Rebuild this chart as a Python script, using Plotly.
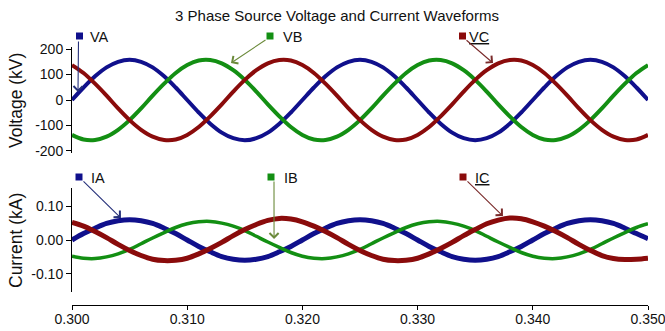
import plotly.graph_objects as go

# ---------------- data ----------------
time_s = [round(0.300 + 0.001 * i, 3) for i in range(51)]

va_kv = [0, 49, 93, 128, 150, 158, 150, 128, 93, 49, 0, -49, -93, -128, -150, -158, -150, -128, -93, -49,
         0, 49, 93, 128, 150, 158, 150, 128, 93, 49, 0, -49, -93, -128, -150, -158, -150, -128, -93, -49,
         0, 49, 93, 128, 150, 158, 150, 128, 93, 49, 0]
vb_kv = [-137, -155, -157, -144, -117, -79, -33, 17, 64, 106, 137, 155, 157, 144, 117, 79, 33, -17, -64, -106,
         -137, -155, -157, -144, -117, -79, -33, 17, 64, 106, 137, 155, 157, 144, 117, 79, 33, -17, -64, -106,
         -137, -155, -157, -144, -117, -79, -33, 17, 64, 106, 137]
vc_kv = [137, 106, 64, 17, -33, -79, -117, -144, -157, -155, -137, -106, -64, -17, 33, 79, 117, 144, 157, 155,
         137, 106, 64, 17, -33, -79, -117, -144, -157, -155, -137, -106, -64, -17, 33, 79, 117, 144, 157, 155,
         137, 106, 64, 17, -33, -79, -117, -144, -157, -155, -137]

ia_ka = [0, 0.019, 0.035, 0.049, 0.057, 0.060, 0.057, 0.049, 0.035, 0.019, 0, -0.019, -0.035, -0.049, -0.057,
         -0.060, -0.057, -0.049, -0.035, -0.019,
         0, 0.019, 0.035, 0.049, 0.057, 0.060, 0.057, 0.049, 0.035, 0.019, 0, -0.019, -0.035, -0.049, -0.057,
         -0.060, -0.057, -0.049, -0.035, -0.019,
         0, 0.019, 0.035, 0.049, 0.057, 0.060, 0.057, 0.049, 0.035, 0.019, 0.004]
ib_ka = [-0.048, -0.054, -0.055, -0.050, -0.041, -0.028, -0.011, 0.006, 0.022, 0.037, 0.048, 0.054, 0.055,
         0.050, 0.041, 0.028, 0.011, -0.006, -0.022, -0.037,
         -0.048, -0.054, -0.055, -0.050, -0.041, -0.028, -0.011, 0.006, 0.022, 0.037, 0.048, 0.054, 0.055,
         0.050, 0.041, 0.028, 0.011, -0.006, -0.022, -0.037,
         -0.048, -0.054, -0.055, -0.050, -0.041, -0.028, -0.011, 0.006, 0.022, 0.037, 0.048]
ic_ka = [0.052, 0.041, 0.025, 0.007, -0.013, -0.031, -0.046, -0.057, -0.061, -0.060, -0.054, -0.041, -0.025,
         -0.007, 0.013, 0.031, 0.046, 0.058, 0.064, 0.062,
         0.054, 0.041, 0.025, 0.007, -0.013, -0.031, -0.046, -0.057, -0.061, -0.060, -0.054, -0.041, -0.025,
         -0.007, 0.013, 0.031, 0.048, 0.059, 0.065, 0.063,
         0.054, 0.041, 0.025, 0.007, -0.013, -0.031, -0.046, -0.055, -0.058, -0.057, -0.054]

x_tickvals = [0.300, 0.310, 0.320, 0.330, 0.340, 0.350]
x_ticktext = ["0.300", "0.310", "0.320", "0.330", "0.340", "0.350"]
v_tickvals = [-200, -100, 0, 100, 200]
v_ticktext = ["-200", "-100", "0", "100", "200"]
i_tickvals = [-0.10, 0.00, 0.10]
i_ticktext = ["-0.10", "0.00", "0.10"]

title_text = "3 Phase Source Voltage and Current Waveforms"
v_title = "Voltage (kV)"
i_title = "Current (kA)"

# ---------------- styling / layout ----------------
W, H = 665, 331
ML, MR, MT, MB = 72, 17, 40, 26
PW, PH = W - ML - MR, H - MT - MB
FONT = "Liberation Sans, Arial, sans-serif"

BLUE, GREEN, RED = "#10108c", "#138f13", "#8a0b0b"
A_BLUE, A_GREEN, A_RED = "#25307a", "#6b8a3a", "#7a2a2a"


def pxp(p):  # pixel x -> paper
    return (p - ML) / PW


def pyp(p):  # pixel y -> paper
    return (H - MB - p) / PH


V_RANGE = [-208, 208]
I_RANGE = [-0.154, 0.154]
V_DOM = (47, 153)
I_DOM = (188, 292)


def x_px(t):
    return ML + (t - 0.300) / 0.05 * PW


def v_px(v):
    return V_DOM[1] - (v - V_RANGE[0]) / (V_RANGE[1] - V_RANGE[0]) * (V_DOM[1] - V_DOM[0])


def i_px(v):
    return I_DOM[1] - (v - I_RANGE[0]) / (I_RANGE[1] - I_RANGE[0]) * (I_DOM[1] - I_DOM[0])


fig = go.Figure()
for y, c, w in [(va_kv, BLUE, 4), (vb_kv, GREEN, 4), (vc_kv, RED, 4)]:
    fig.add_trace(go.Scatter(x=time_s, y=y, mode="lines", line=dict(color=c, width=w, shape="spline"),
                             xaxis="x", yaxis="y", showlegend=False))
for y, c, w in [(ia_ka, BLUE, 5), (ib_ka, GREEN, 3.5), (ic_ka, RED, 5)]:
    fig.add_trace(go.Scatter(x=time_s, y=y, mode="lines", line=dict(color=c, width=w, shape="spline"),
                             xaxis="x", yaxis="y2", showlegend=False))

axis_common = dict(showline=True, linecolor="black", linewidth=1, ticks="outside",
                   tickcolor="black", tickwidth=1, showgrid=False, zeroline=False, automargin=False,
                   ticklabeloverflow="allow",
                   tickfont=dict(family=FONT, size=14, color="#111111"))

fig.update_layout(
    width=W, height=H,
    margin=dict(l=ML, r=MR, t=MT, b=MB),
    paper_bgcolor="white", plot_bgcolor="white",
    font=dict(family=FONT, color="black"),
    title=dict(text=title_text, x=337 / W, xref="container", xanchor="center",
               y=1 - 16 / H, yref="container", yanchor="middle",
               font=dict(family=FONT, size=15, color="#111111")),
    xaxis=dict(range=[0.300, 0.350], anchor="free", position=0, ticklen=4, ticklabelstandoff=-3,
               tickvals=x_tickvals, ticktext=x_ticktext, **axis_common),
    yaxis=dict(range=V_RANGE, domain=[pyp(V_DOM[1]), pyp(V_DOM[0])], anchor="x", ticklen=5,
               tickvals=v_tickvals, ticktext=v_ticktext, **axis_common),
    yaxis2=dict(range=I_RANGE, domain=[pyp(I_DOM[1]), pyp(I_DOM[0])], anchor="x", ticklen=5,
                tickvals=i_tickvals, ticktext=i_ticktext, **axis_common),
)

annotations = []
shapes = []

# axis titles
annotations.append(dict(text=v_title, xref="paper", yref="paper", x=pxp(16), y=pyp(101),
                        textangle=-90, showarrow=False, xanchor="center", yanchor="middle",
                        font=dict(family=FONT, size=17.5, color="#111111")))
annotations.append(dict(text=i_title, xref="paper", yref="paper", x=pxp(16), y=pyp(241),
                        textangle=-90, showarrow=False, xanchor="center", yanchor="middle",
                        font=dict(family=FONT, size=17.5, color="#111111")))

# labels: (text, marker centre px, text left px, arrow tail px, tip data, axis, colors)
labels = [
    ("VA", (79.5, 36), 88, (78.5, 40), (0.30052, 31), "y", BLUE, A_BLUE),
    ("VB", (270, 36), 281, (267, 39), (0.31380, 145), "y", GREEN, A_GREEN),
    ("<u>VC</u>", (462.5, 36), 467, (465, 39), (0.33655, 145), "y", RED, A_RED),
    ("IA", (79, 177), 89, (82, 180), (0.30425, 0.065), "y2", BLUE, A_BLUE),
    ("IB", (271, 177), 282, (274, 180), (0.31754, 0.003), "y2", GREEN, A_GREEN),
    ("<u>IC</u>", (463, 177), 473, (466, 180), (0.33741, 0.071), "y2", RED, A_RED),
]
for text, (mx, my), tx, (ax_px, ay_px), (tt, tv), yax, mcol, acol in labels:
    s = 3.5
    shapes.append(dict(type="rect", xref="paper", yref="paper",
                       x0=pxp(mx - s), x1=pxp(mx + s), y0=pyp(my + s), y1=pyp(my - s),
                       fillcolor=mcol, line=dict(width=0), layer="above"))
    annotations.append(dict(text=text, xref="paper", yref="paper", x=pxp(tx), y=pyp(my + 1),
                            showarrow=False, xanchor="left", yanchor="middle",
                            font=dict(family=FONT, size=14.5, color="#111111")))
    tip_x = x_px(tt)
    tip_y = v_px(tv) if yax == "y" else i_px(tv)
    annotations.append(dict(text="", xref="x", yref=yax, x=tt, y=tv, showarrow=True,
                            ax=ax_px - tip_x, ay=ay_px - tip_y, arrowhead=4, arrowsize=1.6,
                            arrowwidth=1.1, arrowcolor=acol, standoff=0))

fig.update_layout(annotations=annotations, shapes=shapes)
fig.write_html("out.html", config={"displayModeBar": False},
               post_script="document.body.style.margin='0';")
